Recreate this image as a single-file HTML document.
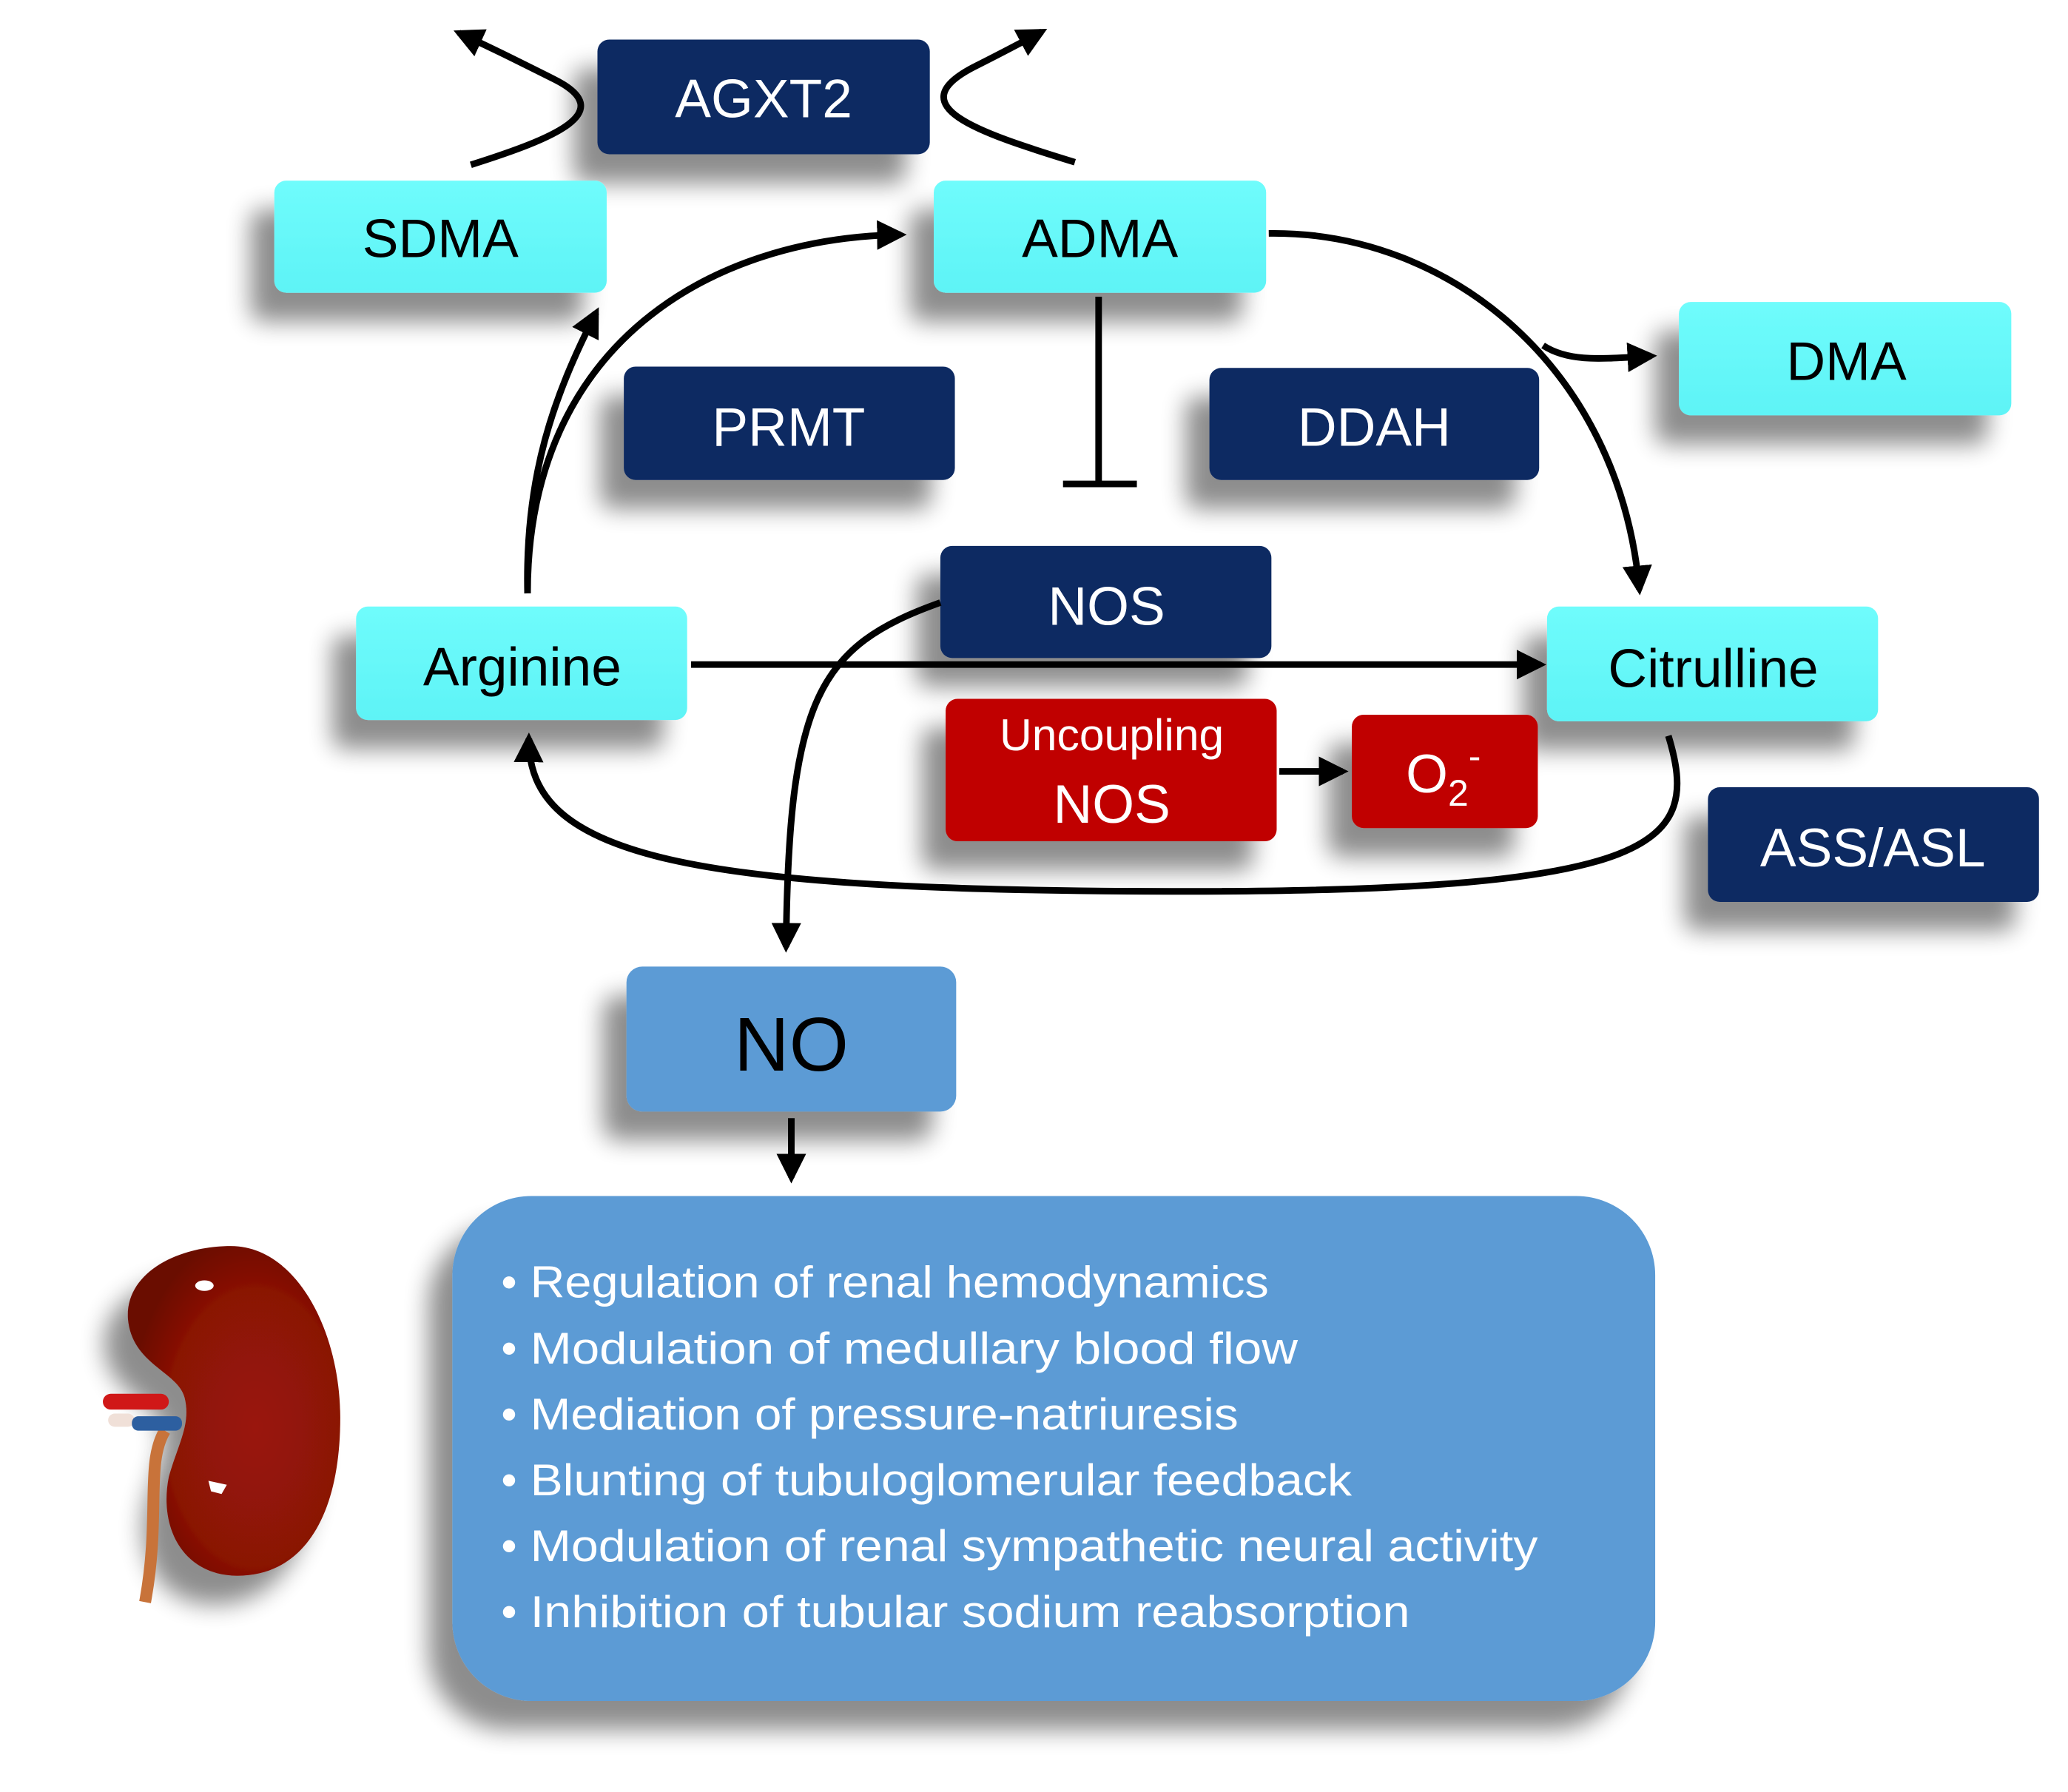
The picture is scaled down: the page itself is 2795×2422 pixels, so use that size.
<!DOCTYPE html>
<html><head><meta charset="utf-8"><style>
html,body{margin:0;padding:0;background:#fff;}
svg{display:block;}
text{font-family:"Liberation Sans",sans-serif;}
</style></head><body>
<svg width="2795" height="2422" viewBox="0 0 1568 1359" preserveAspectRatio="none" xmlns="http://www.w3.org/2000/svg">
<defs>
<filter id="sh" x="-30%" y="-30%" width="160%" height="170%">
<feGaussianBlur in="SourceAlpha" stdDeviation="9"/>
<feOffset dx="-18" dy="22" result="b"/>
<feComponentTransfer><feFuncA type="linear" slope="0.45"/></feComponentTransfer>
<feMerge><feMergeNode/><feMergeNode in="SourceGraphic"/></feMerge>
</filter>
<marker id="ar" viewBox="0 0 10 10" refX="8" refY="5" markerWidth="4.5" markerHeight="4.5" orient="auto-start-reverse" markerUnits="strokeWidth">
<path d="M0,0 L10,5 L0,10 z" fill="#000"/></marker>
<radialGradient id="kg" cx="0.6" cy="0.55" r="0.6"><stop offset="0" stop-color="#9a1808"/><stop offset="0.7" stop-color="#8a1206"/><stop offset="1" stop-color="#6a0a04"/></radialGradient>
<linearGradient id="cy" x1="0" y1="0" x2="0" y2="1"><stop offset="0" stop-color="#6ffcfc"/><stop offset="1" stop-color="#5ef3f6"/></linearGradient>
</defs>

<g filter="url(#sh)">
<rect x="453" y="30" width="252" height="87" rx="9" fill="#0f2a62"/>
<rect x="208" y="137" width="252" height="85" rx="9" fill="url(#cy)"/>
<rect x="708" y="137" width="252" height="85" rx="9" fill="url(#cy)"/>
<rect x="1273" y="229" width="252" height="86" rx="9" fill="url(#cy)"/>
<rect x="473" y="278" width="251" height="86" rx="9" fill="#0f2a62"/>
<rect x="917" y="279" width="250" height="85" rx="9" fill="#0f2a62"/>
<rect x="713" y="414" width="251" height="85" rx="9" fill="#0f2a62"/>
<rect x="270" y="460" width="251" height="86" rx="9" fill="url(#cy)"/>
<rect x="1173" y="460" width="251" height="87" rx="9" fill="url(#cy)"/>
<rect x="717" y="530" width="251" height="108" rx="9" fill="#c00000"/>
<rect x="1025" y="542" width="141" height="86" rx="9" fill="#c00000"/>
<rect x="1295" y="597" width="251" height="87" rx="9" fill="#0f2a62"/>
<rect x="475" y="733" width="250" height="110" rx="12" fill="#5b9bd5"/>
<rect x="343" y="907" width="912" height="383" rx="60" fill="#5b9bd5"/>
</g>

<g fill="none" stroke="#000" stroke-width="5">
<path d="M400,450 C398,360 420,300 452,237" marker-end="url(#ar)"/>
<path d="M400,450 C400,260 540,180 683,178" marker-end="url(#ar)"/>
<path d="M962,177 C1100,175 1228,280 1243,447" marker-end="url(#ar)"/>
<path d="M1170,262 C1190,275 1215,272 1252,270" marker-end="url(#ar)"/>
<path d="M833,225 L833,367"/>
<path d="M806,367 L862,367"/>
<path d="M524,504 L1168,504" marker-end="url(#ar)"/>
<path d="M713,457 C620,490 598,530 596,718" marker-end="url(#ar)"/>
<path d="M1265,558 C1290,640 1260,676 900,676 C520,676 400,650 401,560" marker-end="url(#ar)"/>
<path d="M970,585 L1018,585" marker-end="url(#ar)"/>
<path d="M600,848 L600,893" marker-end="url(#ar)"/>
<path d="M357,125 C420,105 470,85 420,60 C390,45 370,35 348,25" marker-end="url(#ar)"/>
<path d="M815,123 C740,100 680,80 740,50 C760,40 775,32 790,24" marker-end="url(#ar)"/>
</g>

<g font-size="41" text-anchor="middle">
<text x="579" y="89" fill="#fff">AGXT2</text>
<text x="334" y="195" fill="#000">SDMA</text>
<text x="834" y="195" fill="#000">ADMA</text>
<text x="1400" y="288" fill="#000">DMA</text>
<text x="598" y="338" fill="#fff">PRMT</text>
<text x="1042" y="338" fill="#fff">DDAH</text>
<text x="839" y="474" fill="#fff">NOS</text>
<text x="396" y="520" fill="#000">Arginine</text>
<text x="1299" y="521" fill="#000">Citrulline</text>
<text x="843" y="569" fill="#fff" font-size="34">Uncoupling</text>
<text x="843" y="624" fill="#fff">NOS</text>
<text x="1420" y="657" fill="#fff">ASS/ASL</text>
<text x="600" y="812" fill="#000" font-size="58">NO</text>
</g>
<text x="1066" y="601" fill="#fff" font-size="41">O<tspan font-size="28" dy="10">2</tspan><tspan font-size="28" dy="-28">-</tspan></text>

<g font-size="34" fill="#fff">
<text x="380" y="984">•</text><text x="402" y="984" textLength="560" lengthAdjust="spacingAndGlyphs">Regulation of renal hemodynamics</text>
<text x="380" y="1034">•</text><text x="402" y="1034" textLength="582" lengthAdjust="spacingAndGlyphs">Modulation of medullary blood flow</text>
<text x="380" y="1084">•</text><text x="402" y="1084" textLength="537" lengthAdjust="spacingAndGlyphs">Mediation of pressure-natriuresis</text>
<text x="380" y="1134">•</text><text x="402" y="1134" textLength="623" lengthAdjust="spacingAndGlyphs">Blunting of tubuloglomerular feedback</text>
<text x="380" y="1184">•</text><text x="402" y="1184" textLength="764" lengthAdjust="spacingAndGlyphs">Modulation of renal sympathetic neural activity</text>
<text x="380" y="1234">•</text><text x="402" y="1234" textLength="667" lengthAdjust="spacingAndGlyphs">Inhibition of tubular sodium reabsorption</text>
</g>

<!-- kidney -->
<g filter="url(#sh)">
<path d="M175,945 C225,945 258,1010 258,1075 C258,1150 230,1195 180,1195 C140,1195 120,1160 128,1120 C135,1095 145,1080 140,1060 C135,1040 100,1035 97,1000 C95,965 135,945 175,945 Z" fill="url(#kg)"/>
</g>
<path d="M125,1085 C110,1110 122,1150 110,1215" stroke="#c8733a" stroke-width="9" fill="none"/>
<rect x="78" y="1057" width="50" height="12" rx="6" fill="#d01818"/>
<rect x="82" y="1072" width="20" height="10" rx="5" fill="#f0e0d8"/>
<rect x="100" y="1074" width="38" height="11" rx="5" fill="#2d5fa0"/>
<ellipse cx="155" cy="975" rx="7" ry="4" fill="#fff"/>
<path d="M158,1123 L172,1126 L168,1133 L160,1131 Z" fill="#fff"/>
</svg>
</body></html>
